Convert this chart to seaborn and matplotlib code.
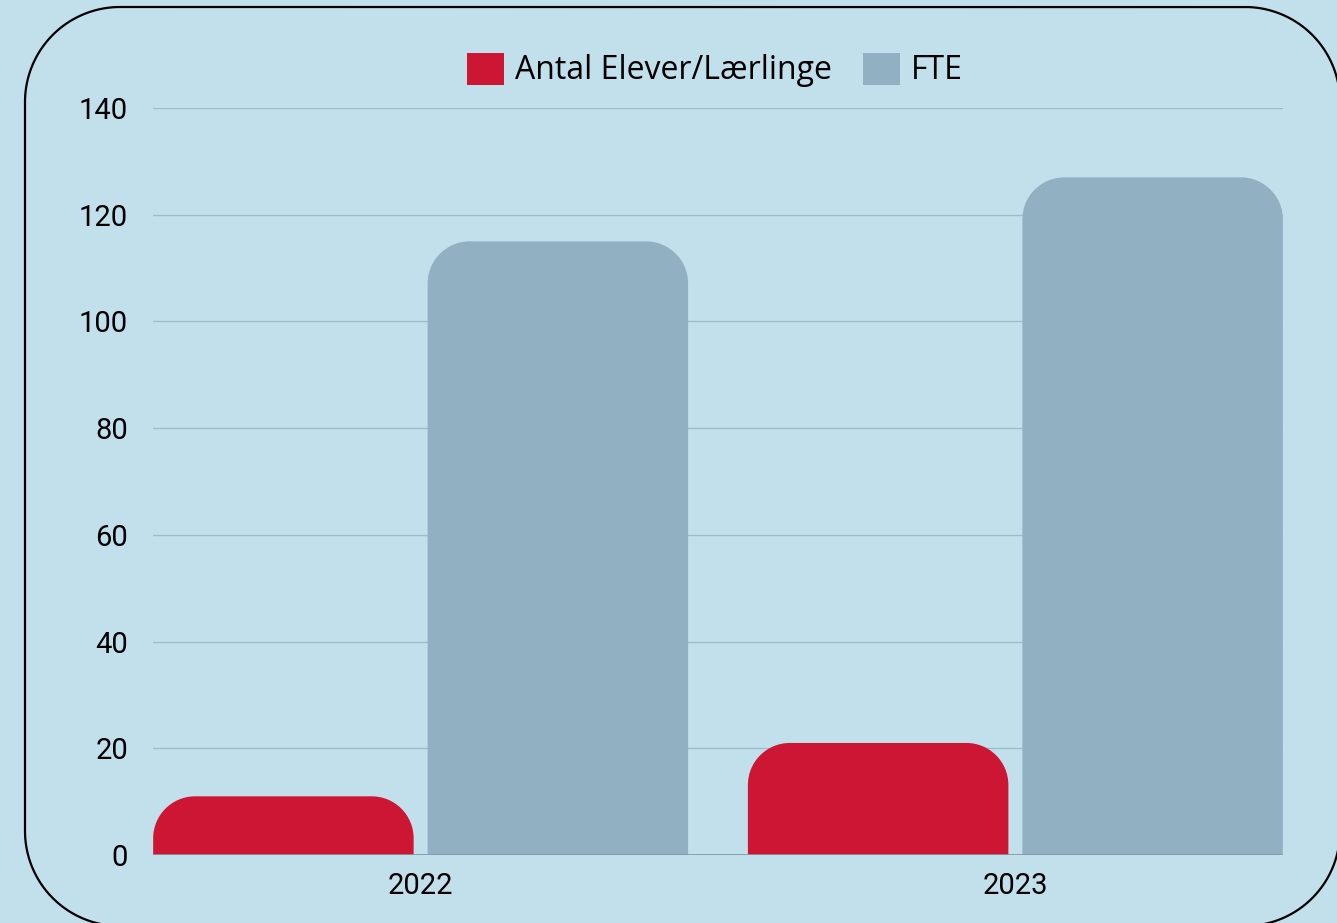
import seaborn as sns
import numpy as np
import pandas as pd
import matplotlib.pyplot as plt
from matplotlib.path import Path
from matplotlib.patches import PathPatch, Patch

years = ['2022', '2023']
series = ['Antal Elever/Lærlinge', 'FTE']
elever = [11, 21]
fte = [115, 127]

BG = '#c2e0ec'
RED = '#cd1633'
GREY = '#91b0c2'

df = pd.DataFrame({
    'year': years * 2,
    'series': [series[0]] * len(years) + [series[1]] * len(years),
    'value': elever + fte,
})

sns.set_theme(style='white')
plt.rcParams['font.family'] = ['Roboto', 'DejaVu Sans']

W, H, DPI = 1337, 923, 100
fig = plt.figure(figsize=(W / DPI, H / DPI), dpi=DPI, facecolor=BG)
ax_l, ax_r, ax_b, ax_t = 153, 1283, 855, 108
ax = fig.add_axes([ax_l / W, 1 - ax_b / H, (ax_r - ax_l) / W, (ax_b - ax_t) / H])
ax.set_facecolor(BG)

sns.barplot(data=df, x='year', y='value', hue='series', palette=[RED, GREY],
            width=0.923, gap=0.051, saturation=1, legend=False, ax=ax)
ax.set_xlim(-0.45, 1.45)
ax.set_ylim(0, 140)
ax.set_yticks(range(0, 141, 20))

# rounded top corners on every bar
xpx = (ax_r - ax_l) / 1.9
ypx = (ax_b - ax_t) / 140
r = 42
k = 0.5523
for bar in list(ax.patches):
    x, y, w, h = bar.get_x(), bar.get_y(), bar.get_width(), bar.get_height()
    if h <= 0:
        continue
    rx = r / xpx
    ry = min(r / ypx, h)
    top = y + h
    verts = [
        (x, y), (x, top - ry),
        (x, top - ry + k * ry), (x + rx - k * rx, top), (x + rx, top),
        (x + w - rx, top),
        (x + w - rx + k * rx, top), (x + w, top - ry + k * ry), (x + w, top - ry),
        (x + w, y), (x, y),
    ]
    codes = [Path.MOVETO, Path.LINETO,
             Path.CURVE4, Path.CURVE4, Path.CURVE4,
             Path.LINETO,
             Path.CURVE4, Path.CURVE4, Path.CURVE4,
             Path.LINETO, Path.CLOSEPOLY]
    fc = bar.get_facecolor()
    bar.remove()
    ax.add_patch(PathPatch(Path(verts, codes), facecolor=fc, edgecolor='none', zorder=2))

ax.set_axisbelow(True)
ax.yaxis.grid(True, color='#9dbdcb', linewidth=1)
ax.axhline(0, color='#7f99a4', linewidth=1.2, zorder=3)
for s in ax.spines.values():
    s.set_visible(False)
ax.set_xlabel('')
ax.set_ylabel('')
ax.tick_params(axis='y', length=0, pad=18, labelsize=21, labelcolor='black')
ax.tick_params(axis='x', length=0, pad=12, labelsize=21, labelcolor='black')

handles = [Patch(facecolor=c, edgecolor='none') for c in [RED, GREY]]
fig.legend(handles, series, loc='center', bbox_to_anchor=(715 / W, 1 - 70 / H),
           ncol=2, frameon=False, handlelength=1.17, handleheight=1.17,
           handletextpad=0.35, columnspacing=0.95, labelcolor='black',
           prop={'family': ['Open Sans', 'DejaVu Sans'], 'size': 23})

# rounded outer frame, sampled as a polyline in pixel coordinates
frame = fig.add_axes([0, 0, 1, 1], facecolor='none')
frame.set_xlim(0, W)
frame.set_ylim(H, 0)
frame.axis('off')
x0, y0, x1, y1, rr = 25, 7, 1340, 926, 95
t = np.linspace(0, np.pi / 2, 40)
px = np.concatenate([x0 + rr - rr * np.cos(t), x1 - rr + rr * np.sin(t),
                     x1 - rr + rr * np.cos(t), x0 + rr - rr * np.sin(t), [x0]])
py = np.concatenate([y0 + rr - rr * np.sin(t), y0 + rr - rr * np.cos(t),
                     y1 - rr + rr * np.sin(t), y1 - rr + rr * np.cos(t), [y0 + rr]])
frame.plot(px, py, color='black', linewidth=1.6, clip_on=False)

fig.savefig('out.png', dpi=DPI, facecolor=BG)
